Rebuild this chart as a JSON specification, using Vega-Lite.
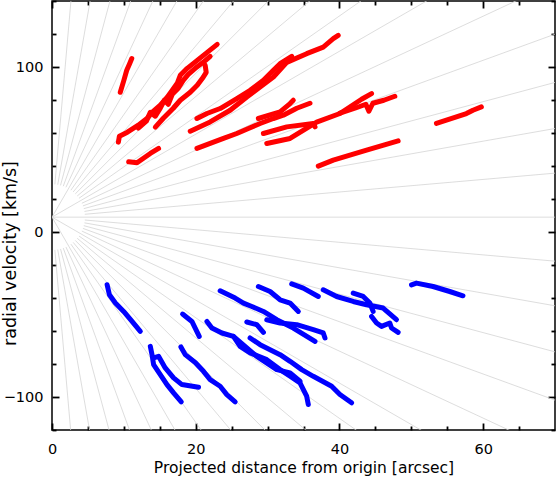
{
  "$schema": "https://vega.github.io/schema/vega-lite/v6.json",
  "width": 503,
  "height": 429,
  "autosize": "none",
  "padding": {"left": 52, "top": 1, "right": 1, "bottom": 47},
  "background": "white",
  "config": {
    "view": {"stroke": "#000", "strokeWidth": 1.5},
    "axis": {"labelFont": "DejaVu Sans", "titleFont": "DejaVu Sans", "labelFontSize": 14.5, "titleFontSize": 15.5, "labelColor": "#000", "titleColor": "#000", "titleFontWeight": "normal", "tickColor": "#000", "tickWidth": 1.8, "ticks": true, "domain": false, "grid": false, "labelFlush": false}
  },
  "datasets": {
    "rays": [
      {"a": 0, "x1": 0, "y1": 9, "x2": 111.11, "y2": 9},
      {"a": 5, "x1": 4.566, "y1": 10.74, "x2": 110.69, "y2": 51.18},
      {"a": 10, "x1": 4.513, "y1": 12.46, "x2": 109.42, "y2": 92.98},
      {"a": 15, "x1": 4.427, "y1": 14.16, "x2": 107.32, "y2": 134.18},
      {"a": 20, "x1": 4.307, "y1": 15.82, "x2": 104.41, "y2": 174.43},
      {"a": 25, "x1": 4.154, "y1": 17.43, "x2": 100.7, "y2": 213.41},
      {"a": 30, "x1": 0, "y1": 9, "x2": 96.22, "y2": 250.85},
      {"a": 35, "x1": 3.754, "y1": 20.44, "x2": 91.02, "y2": 286.45},
      {"a": 40, "x1": 3.511, "y1": 21.82, "x2": 85.11, "y2": 319.92},
      {"a": 45, "x1": 3.241, "y1": 23.11, "x2": 78.57, "y2": 351.03},
      {"a": 50, "x1": 2.946, "y1": 24.28, "x2": 71.42, "y2": 379.51},
      {"a": 55, "x1": 2.629, "y1": 25.34, "x2": 63.73, "y2": 405.24},
      {"a": 60, "x1": 0, "y1": 9, "x2": 55.56, "y2": 427.89},
      {"a": 65, "x1": 1.937, "y1": 27.08, "x2": 46.96, "y2": 447.38},
      {"a": 70, "x1": 1.567, "y1": 27.75, "x2": 38.0, "y2": 463.54},
      {"a": 75, "x1": 1.186, "y1": 28.27, "x2": 28.76, "y2": 476.21},
      {"a": 80, "x1": 0.796, "y1": 28.65, "x2": 19.29, "y2": 485.35},
      {"a": 85, "x1": 0.4, "y1": 28.87, "x2": 9.69, "y2": 490.86},
      {"a": -5, "x1": 4.566, "y1": 7.26, "x2": 110.69, "y2": -33.18},
      {"a": -10, "x1": 4.513, "y1": 5.54, "x2": 109.42, "y2": -74.98},
      {"a": -15, "x1": 4.427, "y1": 3.84, "x2": 107.32, "y2": -116.18},
      {"a": -20, "x1": 4.307, "y1": 2.18, "x2": 104.41, "y2": -156.43},
      {"a": -25, "x1": 4.154, "y1": 0.57, "x2": 100.7, "y2": -195.41},
      {"a": -30, "x1": 0, "y1": 9, "x2": 96.22, "y2": -232.85},
      {"a": -35, "x1": 3.754, "y1": -2.44, "x2": 91.02, "y2": -268.45},
      {"a": -40, "x1": 3.511, "y1": -3.82, "x2": 85.11, "y2": -301.92},
      {"a": -45, "x1": 3.241, "y1": -5.11, "x2": 78.57, "y2": -333.03},
      {"a": -50, "x1": 2.946, "y1": -6.28, "x2": 71.42, "y2": -361.51},
      {"a": -55, "x1": 2.629, "y1": -7.34, "x2": 63.73, "y2": -387.24},
      {"a": -60, "x1": 0, "y1": 9, "x2": 55.56, "y2": -409.89},
      {"a": -65, "x1": 1.937, "y1": -9.08, "x2": 46.96, "y2": -429.38},
      {"a": -70, "x1": 1.567, "y1": -9.75, "x2": 38.0, "y2": -445.54},
      {"a": -75, "x1": 1.186, "y1": -10.27, "x2": 28.76, "y2": -458.21},
      {"a": -80, "x1": 0.796, "y1": -10.65, "x2": 19.29, "y2": -467.35},
      {"a": -85, "x1": 0.4, "y1": -10.87, "x2": 9.69, "y2": -472.86}
    ],
    "tracks": [
      {"t": "A", "c": "r", "i": 0, "x": 9.5, "y": 84.7}, {"t": "A", "c": "r", "i": 1, "x": 10.0, "y": 91.9}, {"t": "A", "c": "r", "i": 2, "x": 10.4, "y": 98.0}, {"t": "A", "c": "r", "i": 3, "x": 10.8, "y": 102.0}, {"t": "A", "c": "r", "i": 4, "x": 11.1, "y": 105.1},
      {"t": "RM1", "c": "r", "i": 0, "x": 9.24, "y": 54.45}, {"t": "RM1", "c": "r", "i": 1, "x": 9.38, "y": 58.08}, {"t": "RM1", "c": "r", "i": 2, "x": 10.49, "y": 60.5}, {"t": "RM1", "c": "r", "i": 3, "x": 12.01, "y": 64.73}, {"t": "RM1", "c": "r", "i": 4, "x": 13.26, "y": 68.96}, {"t": "RM1", "c": "r", "i": 5, "x": 13.96, "y": 72.59}, {"t": "RM1", "c": "r", "i": 6, "x": 15.07, "y": 76.82}, {"t": "RM1", "c": "r", "i": 7, "x": 16.04, "y": 81.66}, {"t": "RM1", "c": "r", "i": 8, "x": 16.74, "y": 85.89}, {"t": "RM1", "c": "r", "i": 9, "x": 17.43, "y": 90.12}, {"t": "RM1", "c": "r", "i": 10, "x": 17.85, "y": 94.96}, {"t": "RM1", "c": "r", "i": 11, "x": 18.82, "y": 99.19}, {"t": "RM1", "c": "r", "i": 12, "x": 20.21, "y": 104.03}, {"t": "RM1", "c": "r", "i": 13, "x": 21.6, "y": 108.86}, {"t": "RM1", "c": "r", "i": 14, "x": 22.99, "y": 113.7},
      {"t": "RM2", "c": "r", "i": 0, "x": 12.01, "y": 62.92}, {"t": "RM2", "c": "r", "i": 1, "x": 13.13, "y": 67.14}, {"t": "RM2", "c": "r", "i": 2, "x": 13.68, "y": 72.59}, {"t": "RM2", "c": "r", "i": 3, "x": 14.38, "y": 70.17}, {"t": "RM2", "c": "r", "i": 4, "x": 15.07, "y": 75.01}, {"t": "RM2", "c": "r", "i": 5, "x": 15.63, "y": 79.84}, {"t": "RM2", "c": "r", "i": 6, "x": 16.18, "y": 77.42}, {"t": "RM2", "c": "r", "i": 7, "x": 16.74, "y": 83.47}, {"t": "RM2", "c": "r", "i": 8, "x": 17.57, "y": 87.1}, {"t": "RM2", "c": "r", "i": 9, "x": 18.26, "y": 91.93}, {"t": "RM2", "c": "r", "i": 10, "x": 18.96, "y": 95.56}, {"t": "RM2", "c": "r", "i": 11, "x": 19.93, "y": 99.19}, {"t": "RM2", "c": "r", "i": 12, "x": 21.04, "y": 102.82}, {"t": "RM2", "c": "r", "i": 13, "x": 22.01, "y": 106.44},
      {"t": "R3", "c": "r", "i": 0, "x": 14.38, "y": 63.52}, {"t": "R3", "c": "r", "i": 1, "x": 15.49, "y": 68.96}, {"t": "R3", "c": "r", "i": 2, "x": 16.88, "y": 75.01}, {"t": "R3", "c": "r", "i": 3, "x": 17.85, "y": 79.84}, {"t": "R3", "c": "r", "i": 4, "x": 19.24, "y": 84.68}, {"t": "R3", "c": "r", "i": 5, "x": 20.21, "y": 88.91}, {"t": "R3", "c": "r", "i": 6, "x": 21.04, "y": 93.75}, {"t": "R3", "c": "r", "i": 7, "x": 21.46, "y": 96.77}, {"t": "R3", "c": "r", "i": 8, "x": 21.32, "y": 101.0},
      {"t": "RS", "c": "r", "i": 0, "x": 10.67, "y": 42.54}, {"t": "RS", "c": "r", "i": 1, "x": 11.83, "y": 41.93}, {"t": "RS", "c": "r", "i": 2, "x": 13.68, "y": 47.62}, {"t": "RS", "c": "r", "i": 3, "x": 14.83, "y": 50.64},
      {"t": "La", "c": "r", "i": 0, "x": 20.17, "y": 68.78}, {"t": "La", "c": "r", "i": 1, "x": 21.56, "y": 71.8}, {"t": "La", "c": "r", "i": 2, "x": 23.4, "y": 74.83}, {"t": "La", "c": "r", "i": 3, "x": 25.72, "y": 80.87}, {"t": "La", "c": "r", "i": 4, "x": 27.57, "y": 85.89}, {"t": "La", "c": "r", "i": 5, "x": 29.42, "y": 91.93}, {"t": "La", "c": "r", "i": 6, "x": 30.81, "y": 97.98}, {"t": "La", "c": "r", "i": 7, "x": 31.74, "y": 102.03}, {"t": "La", "c": "r", "i": 8, "x": 33.36, "y": 106.44},
      {"t": "Lb", "c": "r", "i": 0, "x": 19.24, "y": 61.1}, {"t": "Lb", "c": "r", "i": 1, "x": 22.01, "y": 66.72}, {"t": "Lb", "c": "r", "i": 2, "x": 24.79, "y": 73.8}, {"t": "Lb", "c": "r", "i": 3, "x": 27.11, "y": 81.84}, {"t": "Lb", "c": "r", "i": 4, "x": 28.96, "y": 87.88}, {"t": "Lb", "c": "r", "i": 5, "x": 30.81, "y": 93.93}, {"t": "Lb", "c": "r", "i": 6, "x": 32.67, "y": 102.82}, {"t": "Lb", "c": "r", "i": 7, "x": 35.44, "y": 108.08}, {"t": "Lb", "c": "r", "i": 8, "x": 37.75, "y": 112.07}, {"t": "Lb", "c": "r", "i": 9, "x": 39.14, "y": 117.15}, {"t": "Lb", "c": "r", "i": 10, "x": 39.83, "y": 119.14},
      {"t": "Lc", "c": "r", "i": 0, "x": 20.17, "y": 50.64}, {"t": "Lc", "c": "r", "i": 1, "x": 22.01, "y": 53.66}, {"t": "Lc", "c": "r", "i": 2, "x": 23.86, "y": 56.69}, {"t": "Lc", "c": "r", "i": 3, "x": 25.72, "y": 59.71}, {"t": "Lc", "c": "r", "i": 4, "x": 27.33, "y": 62.73}, {"t": "Lc", "c": "r", "i": 5, "x": 28.96, "y": 65.76}, {"t": "Lc", "c": "r", "i": 6, "x": 30.81, "y": 68.78}, {"t": "Lc", "c": "r", "i": 7, "x": 32.19, "y": 70.77}, {"t": "Lc", "c": "r", "i": 8, "x": 34.06, "y": 75.01}, {"t": "Lc", "c": "r", "i": 9, "x": 35.9, "y": 78.03},
      {"t": "Lbr", "c": "r", "i": 0, "x": 28.72, "y": 68.78}, {"t": "Lbr", "c": "r", "i": 1, "x": 31.74, "y": 72.77}, {"t": "Lbr", "c": "r", "i": 2, "x": 33.13, "y": 77.85}, {"t": "Lbr", "c": "r", "i": 3, "x": 33.58, "y": 79.84},
      {"t": "Ld", "c": "r", "i": 0, "x": 29.42, "y": 59.71}, {"t": "Ld", "c": "r", "i": 1, "x": 32.67, "y": 63.7}, {"t": "Ld", "c": "r", "i": 2, "x": 36.36, "y": 65.76}, {"t": "Ld", "c": "r", "i": 3, "x": 36.6, "y": 63.7},
      {"t": "Le", "c": "r", "i": 0, "x": 29.89, "y": 53.66}, {"t": "Le", "c": "r", "i": 1, "x": 33.13, "y": 56.69}, {"t": "Le", "c": "r", "i": 2, "x": 36.83, "y": 66.54}, {"t": "Le", "c": "r", "i": 3, "x": 40.07, "y": 71.8}, {"t": "Le", "c": "r", "i": 4, "x": 43.08, "y": 80.45}, {"t": "Le", "c": "r", "i": 5, "x": 44.47, "y": 83.89},
      {"t": "Lg", "c": "r", "i": 0, "x": 40.07, "y": 71.98}, {"t": "Lg", "c": "r", "i": 1, "x": 42.15, "y": 75.01}, {"t": "Lg", "c": "r", "i": 2, "x": 43.68, "y": 77.42}, {"t": "Lg", "c": "r", "i": 3, "x": 44.1, "y": 73.19}, {"t": "Lg", "c": "r", "i": 4, "x": 44.65, "y": 78.03}, {"t": "Lg", "c": "r", "i": 5, "x": 46.18, "y": 79.84}, {"t": "Lg", "c": "r", "i": 6, "x": 47.71, "y": 82.26},
      {"t": "Lf", "c": "r", "i": 0, "x": 37.06, "y": 39.94}, {"t": "Lf", "c": "r", "i": 1, "x": 39.14, "y": 43.57}, {"t": "Lf", "c": "r", "i": 2, "x": 41.46, "y": 46.59}, {"t": "Lf", "c": "r", "i": 3, "x": 43.78, "y": 49.61}, {"t": "Lf", "c": "r", "i": 4, "x": 48.17, "y": 55.24},
      {"t": "Lh", "c": "r", "i": 0, "x": 53.5, "y": 65.76}, {"t": "Lh", "c": "r", "i": 1, "x": 54.89, "y": 67.75}, {"t": "Lh", "c": "r", "i": 2, "x": 56.28, "y": 69.75}, {"t": "Lh", "c": "r", "i": 3, "x": 57.67, "y": 71.8}, {"t": "Lh", "c": "r", "i": 4, "x": 58.58, "y": 73.8}, {"t": "Lh", "c": "r", "i": 5, "x": 59.75, "y": 75.79},
      {"t": "B1", "c": "b", "i": 0, "x": 7.67, "y": -32.0}, {"t": "B1", "c": "b", "i": 1, "x": 7.99, "y": -38.05}, {"t": "B1", "c": "b", "i": 2, "x": 8.82, "y": -43.07}, {"t": "B1", "c": "b", "i": 3, "x": 9.97, "y": -48.15}, {"t": "B1", "c": "b", "i": 4, "x": 11.14, "y": -54.2}, {"t": "B1", "c": "b", "i": 5, "x": 12.29, "y": -60.24},
      {"t": "B2", "c": "b", "i": 0, "x": 13.68, "y": -69.31}, {"t": "B2", "c": "b", "i": 1, "x": 13.92, "y": -74.33}, {"t": "B2", "c": "b", "i": 2, "x": 14.14, "y": -80.38}, {"t": "B2", "c": "b", "i": 3, "x": 15.07, "y": -86.42}, {"t": "B2", "c": "b", "i": 4, "x": 16.0, "y": -92.47}, {"t": "B2", "c": "b", "i": 5, "x": 16.92, "y": -97.49}, {"t": "B2", "c": "b", "i": 6, "x": 17.99, "y": -102.93},
      {"t": "B3", "c": "b", "i": 0, "x": 14.14, "y": -76.33}, {"t": "B3", "c": "b", "i": 1, "x": 14.83, "y": -75.36}, {"t": "B3", "c": "b", "i": 2, "x": 15.76, "y": -82.37}, {"t": "B3", "c": "b", "i": 3, "x": 16.92, "y": -88.42}, {"t": "B3", "c": "b", "i": 4, "x": 18.08, "y": -92.47}, {"t": "B3", "c": "b", "i": 5, "x": 20.39, "y": -94.1},
      {"t": "B4", "c": "b", "i": 0, "x": 18.17, "y": -49.72}, {"t": "B4", "c": "b", "i": 1, "x": 19.47, "y": -54.2}, {"t": "B4", "c": "b", "i": 2, "x": 19.93, "y": -58.19}, {"t": "B4", "c": "b", "i": 3, "x": 20.49, "y": -63.27},
      {"t": "B5", "c": "b", "i": 0, "x": 17.94, "y": -69.68}, {"t": "B5", "c": "b", "i": 1, "x": 18.54, "y": -74.33}, {"t": "B5", "c": "b", "i": 2, "x": 19.93, "y": -79.05}, {"t": "B5", "c": "b", "i": 3, "x": 21.08, "y": -84.43}, {"t": "B5", "c": "b", "i": 4, "x": 22.01, "y": -89.45}, {"t": "B5", "c": "b", "i": 5, "x": 23.4, "y": -93.5}, {"t": "B5", "c": "b", "i": 6, "x": 24.33, "y": -98.52}, {"t": "B5", "c": "b", "i": 7, "x": 25.49, "y": -102.93},
      {"t": "B6", "c": "b", "i": 0, "x": 23.4, "y": -35.64}, {"t": "B6", "c": "b", "i": 1, "x": 25.49, "y": -40.05}, {"t": "B6", "c": "b", "i": 2, "x": 26.64, "y": -43.07}, {"t": "B6", "c": "b", "i": 3, "x": 27.81, "y": -45.13}, {"t": "B6", "c": "b", "i": 4, "x": 29.42, "y": -48.15}, {"t": "B6", "c": "b", "i": 5, "x": 31.28, "y": -53.17}, {"t": "B6", "c": "b", "i": 6, "x": 33.58, "y": -58.19}, {"t": "B6", "c": "b", "i": 7, "x": 36.6, "y": -66.29},
      {"t": "B10", "c": "b", "i": 0, "x": 28.72, "y": -33.04}, {"t": "B10", "c": "b", "i": 1, "x": 30.35, "y": -36.06}, {"t": "B10", "c": "b", "i": 2, "x": 31.74, "y": -41.08}, {"t": "B10", "c": "b", "i": 3, "x": 33.13, "y": -43.07}, {"t": "B10", "c": "b", "i": 4, "x": 34.28, "y": -48.15},
      {"t": "B11", "c": "b", "i": 0, "x": 33.36, "y": -31.4}, {"t": "B11", "c": "b", "i": 1, "x": 34.97, "y": -34.0}, {"t": "B11", "c": "b", "i": 2, "x": 37.06, "y": -39.08},
      {"t": "B12", "c": "b", "i": 0, "x": 37.75, "y": -35.03}, {"t": "B12", "c": "b", "i": 1, "x": 39.61, "y": -39.08}, {"t": "B12", "c": "b", "i": 2, "x": 41.92, "y": -42.1}, {"t": "B12", "c": "b", "i": 3, "x": 43.78, "y": -44.1}, {"t": "B12", "c": "b", "i": 4, "x": 46.08, "y": -46.1}, {"t": "B12", "c": "b", "i": 5, "x": 47.94, "y": -53.17},
      {"t": "B13", "c": "b", "i": 0, "x": 41.92, "y": -37.03}, {"t": "B13", "c": "b", "i": 1, "x": 43.31, "y": -39.08}, {"t": "B13", "c": "b", "i": 2, "x": 44.24, "y": -43.07}, {"t": "B13", "c": "b", "i": 3, "x": 44.69, "y": -48.15},
      {"t": "B14", "c": "b", "i": 0, "x": 44.47, "y": -51.17}, {"t": "B14", "c": "b", "i": 1, "x": 45.17, "y": -55.16}, {"t": "B14", "c": "b", "i": 2, "x": 45.86, "y": -57.22}, {"t": "B14", "c": "b", "i": 3, "x": 47.01, "y": -55.16}, {"t": "B14", "c": "b", "i": 4, "x": 47.25, "y": -58.19}, {"t": "B14", "c": "b", "i": 5, "x": 48.17, "y": -60.85},
      {"t": "B15", "c": "b", "i": 0, "x": 50.03, "y": -32.01}, {"t": "B15", "c": "b", "i": 1, "x": 50.72, "y": -30.98}, {"t": "B15", "c": "b", "i": 2, "x": 53.03, "y": -33.04}, {"t": "B15", "c": "b", "i": 3, "x": 55.35, "y": -36.06}, {"t": "B15", "c": "b", "i": 4, "x": 57.19, "y": -38.66},
      {"t": "B8", "c": "b", "i": 0, "x": 27.11, "y": -54.56}, {"t": "B8", "c": "b", "i": 1, "x": 28.5, "y": -56.19}, {"t": "B8", "c": "b", "i": 2, "x": 29.42, "y": -60.85},
      {"t": "B16", "c": "b", "i": 0, "x": 29.89, "y": -53.17}, {"t": "B16", "c": "b", "i": 1, "x": 31.74, "y": -55.16}, {"t": "B16", "c": "b", "i": 2, "x": 34.06, "y": -56.19}, {"t": "B16", "c": "b", "i": 3, "x": 36.36, "y": -59.21}, {"t": "B16", "c": "b", "i": 4, "x": 37.75, "y": -61.21}, {"t": "B16", "c": "b", "i": 5, "x": 37.99, "y": -64.23},
      {"t": "B9", "c": "b", "i": 0, "x": 27.57, "y": -64.23}, {"t": "B9", "c": "b", "i": 1, "x": 28.96, "y": -68.28}, {"t": "B9", "c": "b", "i": 2, "x": 31.74, "y": -74.33}, {"t": "B9", "c": "b", "i": 3, "x": 33.13, "y": -78.38}, {"t": "B9", "c": "b", "i": 4, "x": 34.75, "y": -83.4}, {"t": "B9", "c": "b", "i": 5, "x": 36.36, "y": -87.45}, {"t": "B9", "c": "b", "i": 6, "x": 38.92, "y": -93.5}, {"t": "B9", "c": "b", "i": 7, "x": 40.07, "y": -98.52}, {"t": "B9", "c": "b", "i": 8, "x": 41.69, "y": -103.53},
      {"t": "B7", "c": "b", "i": 0, "x": 21.56, "y": -54.2}, {"t": "B7", "c": "b", "i": 1, "x": 22.25, "y": -58.19}, {"t": "B7", "c": "b", "i": 2, "x": 23.64, "y": -61.21}, {"t": "B7", "c": "b", "i": 3, "x": 25.25, "y": -63.27}, {"t": "B7", "c": "b", "i": 4, "x": 26.18, "y": -69.31}, {"t": "B7", "c": "b", "i": 5, "x": 27.57, "y": -73.3}, {"t": "B7", "c": "b", "i": 6, "x": 29.89, "y": -77.35}, {"t": "B7", "c": "b", "i": 7, "x": 31.74, "y": -83.4}, {"t": "B7", "c": "b", "i": 8, "x": 33.13, "y": -87.45}, {"t": "B7", "c": "b", "i": 9, "x": 34.51, "y": -91.44}, {"t": "B7", "c": "b", "i": 10, "x": 35.44, "y": -99.54}, {"t": "B7", "c": "b", "i": 11, "x": 35.67, "y": -104.56},
      {"t": "B17", "c": "b", "i": 0, "x": 25.25, "y": -63.27}, {"t": "B17", "c": "b", "i": 1, "x": 28.5, "y": -75.36}, {"t": "B17", "c": "b", "i": 2, "x": 31.28, "y": -83.4}, {"t": "B17", "c": "b", "i": 3, "x": 33.13, "y": -85.39}, {"t": "B17", "c": "b", "i": 4, "x": 34.51, "y": -90.47}
    ]
  },
  "layer": [
    {
      "data": {"name": "rays"},
      "mark": {"type": "rule", "clip": true, "color": "#d4d4d4", "strokeWidth": 0.8},
      "encoding": {
        "x": {"field": "x1", "type": "quantitative",
          "scale": {"domain": [0, 70], "nice": false, "zero": false},
          "axis": {"orient": "bottom", "values": [0, 20, 40, 60], "tickSize": 7, "offset": -7,
            "labelPadding": 12, "labelBaseline": "top",
            "title": "Projected distance from origin [arcsec]", "titleY": 49, "titleBaseline": "alphabetic"}},
        "y": {"field": "y1", "type": "quantitative",
          "scale": {"domain": [-120, 140], "nice": false, "zero": false},
          "axis": {"orient": "left", "values": [-100, 0, 100], "tickSize": 7, "offset": -7,
            "labelPadding": 9,
            "title": "radial velocity [km/s]", "titleFontSize": 17.5, "titleX": -49, "titleY": 252, "titleBaseline": "middle"}},
        "x2": {"field": "x2"},
        "y2": {"field": "y2"}
      }
    },
    {
      "data": {"name": "rays"},
      "mark": {"type": "rule", "clip": true, "opacity": 0},
      "encoding": {
        "x": {"field": "x1", "type": "quantitative",
          "scale": {"domain": [0, 70], "nice": false, "zero": false},
          "axis": {"orient": "bottom", "values": [5,10,15,25,30,35,45,50,55,65], "tickSize": 4, "offset": -4, "labels": false, "title": null}},
        "y": {"field": "y1", "type": "quantitative",
          "scale": {"domain": [-120, 140], "nice": false, "zero": false},
          "axis": {"orient": "left", "values": [-120,-80,-60,-40,-20,20,40,60,80,120,140], "tickSize": 4, "offset": -4, "labels": false, "title": null}},
        "x2": {"field": "x2"},
        "y2": {"field": "y2"}
      }
    },
    {
      "data": {"name": "rays"},
      "mark": {"type": "rule", "clip": true, "opacity": 0},
      "encoding": {
        "x": {"field": "x1", "type": "quantitative",
          "scale": {"domain": [0, 70], "nice": false, "zero": false},
          "axis": {"orient": "top", "values": [5,10,15,25,30,35,45,50,55,65], "tickSize": 4, "offset": -4, "labels": false, "title": null}},
        "y": {"field": "y1", "type": "quantitative",
          "scale": {"domain": [-120, 140], "nice": false, "zero": false},
          "axis": {"orient": "right", "values": [-120,-80,-60,-40,-20,20,40,60,80,120,140], "tickSize": 4, "offset": -4, "labels": false, "title": null}},
        "x2": {"field": "x2"},
        "y2": {"field": "y2"}
      }
    },
    {
      "data": {"name": "tracks"},
      "mark": {"type": "line", "clip": true, "strokeWidth": 5, "strokeCap": "round", "strokeJoin": "round"},
      "encoding": {
        "x": {"field": "x", "type": "quantitative",
          "scale": {"domain": [0, 70], "nice": false, "zero": false},
          "axis": {"orient": "top", "values": [0, 20, 40, 60], "tickSize": 7, "offset": -7, "labels": false, "title": null}},
        "y": {"field": "y", "type": "quantitative",
          "scale": {"domain": [-120, 140], "nice": false, "zero": false},
          "axis": {"orient": "right", "values": [-100, 0, 100], "tickSize": 7, "offset": -7, "labels": false, "title": null}},
        "color": {"field": "c", "type": "nominal", "scale": {"domain": ["r", "b"], "range": ["#ff0000", "#0000ff"]}, "legend": null},
        "detail": {"field": "t"},
        "order": {"field": "i", "type": "quantitative"}
      }
    }
  ],
  "resolve": {"axis": {"x": "independent", "y": "independent"}}
}
